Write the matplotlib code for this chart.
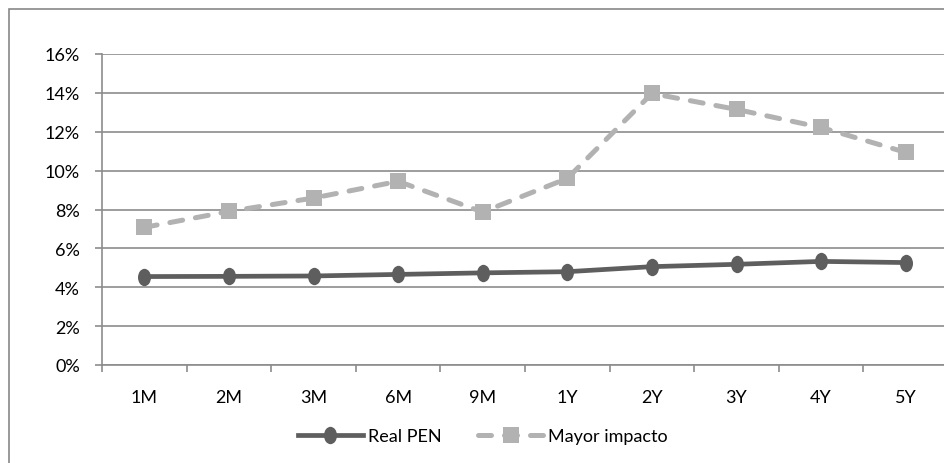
import matplotlib
matplotlib.use("Agg")
import matplotlib.pyplot as plt
from matplotlib.patches import Rectangle
from matplotlib.path import Path
from matplotlib.transforms import Affine2D
from matplotlib.ticker import FuncFormatter, FixedLocator

categories = ["1M", "2M", "3M", "6M", "9M", "1Y", "2Y", "3Y", "4Y", "5Y"]
real_pen = [4.55, 4.56, 4.58, 4.66, 4.74, 4.80, 5.06, 5.18, 5.33, 5.27]
mayor_impacto = [7.08, 7.90, 8.59, 9.45, 7.87, 9.60, 13.97, 13.15, 12.22, 10.94]
y_ticks = [0, 2, 4, 6, 8, 10, 12, 14, 16]

plt.rcParams['font.family'] = ['Lato', 'DejaVu Sans']

W, H = 944, 464
fig = plt.figure(figsize=(W / 100, H / 100), dpi=100)

# outer chart frame (cropped at right and bottom)
fig.patches.append(Rectangle((9 / W, -0.1), 1.2, (H - 10) / H + 0.1,
                             transform=fig.transFigure, fill=False,
                             edgecolor="#888888", linewidth=1.2, zorder=0))

left, right = 102 / W, 948 / W
bottom, top = (H - 366) / H, (H - 55) / H
ax = fig.add_axes([left, bottom, right - left, top - bottom])
ax.set_facecolor("none")

x = list(range(len(categories)))
grid_c = "#8c8c8c"

ellipse = Path.unit_circle().transformed(Affine2D().scale(0.75, 1.0))

ax.plot(x, mayor_impacto, color="#b2b2b2", linewidth=3.6,
        linestyle=(0, (2.6, 2.6)), dash_capstyle="round",
        marker="s", markersize=12, markeredgewidth=0,
        label="Mayor impacto", zorder=3)
ax.plot(x, real_pen, color="#5e5e5e", linewidth=3.4,
        marker=ellipse, markersize=12.5, markeredgewidth=0,
        label="Real PEN", zorder=4)

ax.set_xlim(-0.5, len(categories) - 0.5)
ax.set_ylim(0, 16)
ax.set_yticks(y_ticks)
ax.yaxis.set_major_formatter(FuncFormatter(lambda v, p: f"{int(v)}%"))
ax.yaxis.grid(True, color=grid_c, linewidth=1.2)
ax.set_axisbelow(True)

ax.set_xticks(x)
ax.set_xticklabels(categories)
ax.xaxis.set_minor_locator(FixedLocator([i - 0.5 for i in range(len(categories) + 1)]))
ax.tick_params(axis="x", which="major", length=0, pad=17, labelsize=13, colors="#000000")
ax.tick_params(axis="x", which="minor", length=5, width=1.2, color=grid_c, direction="out")
ax.tick_params(axis="y", length=5, width=1.2, color=grid_c, direction="out",
               labelsize=13, pad=11)

for s in ["top", "right"]:
    ax.spines[s].set_visible(False)
for s in ["left", "bottom"]:
    ax.spines[s].set_color(grid_c)
    ax.spines[s].set_linewidth(1.2)

handles, labels = ax.get_legend_handles_labels()
leg = fig.legend(handles[::-1], labels[::-1], loc="center",
                 bbox_to_anchor=(483 / W, (H - 437) / H), ncol=2,
                 frameon=False, fontsize=13, handlelength=3.6,
                 columnspacing=2.0, handletextpad=0.3)

fig.savefig("out.png", dpi=100)
